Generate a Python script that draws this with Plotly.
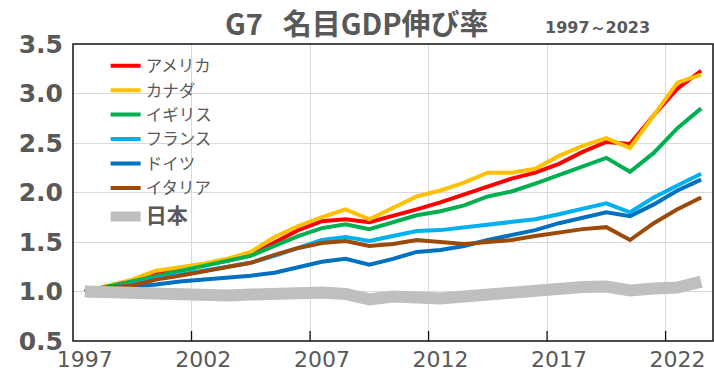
import plotly.graph_objects as go

years = list(range(1997, 2024))

usa = [1.00, 1.06, 1.11, 1.19, 1.23, 1.27, 1.31, 1.37, 1.50, 1.62, 1.71, 1.73, 1.70,
       1.76, 1.83, 1.90, 1.98, 2.06, 2.14, 2.20, 2.29, 2.41, 2.51, 2.49, 2.78, 3.05, 3.23]
canada = [1.00, 1.06, 1.12, 1.21, 1.24, 1.28, 1.33, 1.40, 1.55, 1.66, 1.75, 1.83, 1.73,
          1.85, 1.96, 2.02, 2.10, 2.20, 2.20, 2.24, 2.37, 2.47, 2.55, 2.45, 2.78, 3.11, 3.19]
uk = [1.00, 1.05, 1.10, 1.16, 1.20, 1.25, 1.30, 1.36, 1.46, 1.56, 1.64, 1.68, 1.63,
      1.70, 1.77, 1.81, 1.87, 1.96, 2.01, 2.09, 2.18, 2.26, 2.35, 2.21, 2.40, 2.65, 2.85]
france = [1.00, 1.04, 1.07, 1.13, 1.17, 1.21, 1.25, 1.29, 1.36, 1.44, 1.52, 1.55, 1.51,
          1.56, 1.61, 1.62, 1.65, 1.67, 1.71, 1.73, 1.78, 1.83, 1.89, 1.80, 1.95, 2.07, 2.19]
germany = [1.00, 1.02, 1.04, 1.07, 1.10, 1.12, 1.13, 1.16, 1.19, 1.24, 1.30, 1.33, 1.27,
           1.33, 1.40, 1.42, 1.46, 1.52, 1.57, 1.62, 1.69, 1.74, 1.80, 1.76, 1.88, 2.02, 2.13]
italy = [1.00, 1.04, 1.06, 1.12, 1.16, 1.20, 1.24, 1.29, 1.37, 1.44, 1.49, 1.51, 1.46,
         1.48, 1.52, 1.50, 1.48, 1.50, 1.52, 1.56, 1.60, 1.63, 1.65, 1.52, 1.69, 1.83, 1.95]
japan = [1.00, 0.99, 0.975, 0.985, 0.975, 0.96, 0.96, 0.97, 0.98, 0.985, 0.99, 0.975, 0.92,
         0.95, 0.93, 0.93, 0.95, 0.97, 1.01, 1.02, 1.04, 1.045, 1.05, 1.01, 1.03, 1.04, 1.10]

names = ["アメリカ", "カナダ", "イギリス", "フランス", "ドイツ", "イタリア",
         "<span style='font-size:21px'><b>日本</b></span>"]
series = [usa, canada, uk, france, germany, italy, japan]
colors = ["#FF0000", "#FFC000", "#00B050", "#00B0F0", "#0070C0", "#9C4A0A", "#BFBFBF"]
widths = [4, 4, 4, 4, 4, 4, 12]
groups = ["a", "a", "a", "a", "a", "a", "b"]

label_years = [1997, 2002, 2007, 2012, 2017, 2022]
boundary_ticks = [2001.5, 2006.5, 2011.5, 2016.5, 2021.5]
y_ticks = [0.5, 1.0, 1.5, 2.0, 2.5, 3.0, 3.5]
x_range = [1996.5, 2023.5]

fig = go.Figure()
for nm, ys, c, w, g in zip(names, series, colors, widths, groups):
    fig.add_trace(go.Scatter(x=years, y=ys, mode="lines", name=nm, legendgroup=g,
                             line=dict(color=c, width=w)))

fig.update_layout(
    width=714, height=389,
    margin=dict(l=73, r=1, t=44, b=48),
    paper_bgcolor="white", plot_bgcolor="white",
    showlegend=True,
    legend=dict(x=0.051, y=0.985, xanchor="left", yanchor="top",
                bgcolor="rgba(0,0,0,0)", itemwidth=30,
                font=dict(family="Noto Sans CJK JP", size=16.5, color="#595959"),
                tracegroupgap=4),
    xaxis=dict(range=x_range, tickmode="array", tickvals=label_years,
               ticktext=[str(y) for y in label_years], ticks="", showgrid=False,
               zeroline=False, showline=False,
               tickfont=dict(family="DejaVu Sans", size=22, color="#595959"),
               ticklabelstandoff=3,
               minor=dict(tickmode="array", tickvals=boundary_ticks, ticks="",
                          showgrid=True, gridcolor="#D9D9D9", gridwidth=1)),
    yaxis=dict(range=[0.5, 3.5], tickmode="array", tickvals=y_ticks,
               ticktext=[f"{v:.1f}" for v in y_ticks], ticks="",
               showgrid=True, gridcolor="#D9D9D9", gridwidth=1, zeroline=False,
               showline=False,
               tickfont=dict(family="DejaVu Sans", size=25, color="#595959", weight="bold"),
               ticklabelstandoff=9),
)

# plot frame and inward tick marks at category boundaries
fig.add_shape(type="rect", xref="paper", yref="paper", x0=0, y0=0, x1=1, y1=1,
              line=dict(color="#111111", width=1.5), layer="above")
for tv in boundary_ticks:
    fig.add_shape(type="line", xref="x", yref="paper", x0=tv, x1=tv, y0=0, y1=0.034,
                  line=dict(color="#111111", width=1.3), layer="above")

fig.add_annotation(text="<b>G7&nbsp;&nbsp;&nbsp;名目GDP伸び率</b>", xref="paper", yref="paper",
                   x=0.4445, y=1.0724, xanchor="center", yanchor="middle", showarrow=False,
                   font=dict(family="Noto Sans CJK JP", size=29, color="#595959"))
fig.add_annotation(text="<b>1997～2023</b>", xref="paper", yref="paper",
                   x=0.8203, y=1.057, xanchor="center", yanchor="middle", showarrow=False,
                   font=dict(family="DejaVu Sans", size=16, color="#595959"))

fig.write_html("out.html", config={"displayModeBar": False},
               post_script="document.body.style.margin='0';")
